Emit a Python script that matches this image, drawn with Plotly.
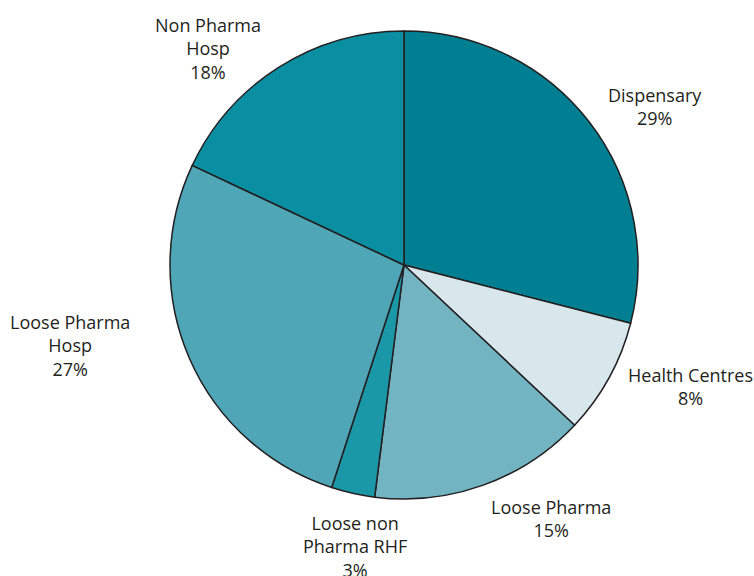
import math
import plotly.graph_objects as go

# Share of total by source
categories = ["Dispensary", "Health Centres", "Loose Pharma", "Loose non Pharma RHF",
              "Loose Pharma Hosp", "Non Pharma Hosp"]
display_names = ["Dispensary", "Health Centres", "Loose Pharma", "Loose non<br>Pharma RHF",
                 "Loose Pharma<br>Hosp", "Non Pharma<br>Hosp"]
shares = [29, 8, 15, 3, 27, 18]
colors = ["#007f93", "#d7e7eb", "#72b4c1", "#1b98a8", "#4ea6b6", "#0a8ea1"]

# Pixel nudges for each outside label, measured from the slice's outer edge midpoint
label_nudge = [(66, 15), (81, -9), (68, -33), (2, -53), (-119, 12), (-71, 19)]

W, H = 754, 576
cx, cy, r = 404, 265, 234

fig = go.Figure(go.Pie(
    labels=categories,
    values=shares,
    textinfo="none",
    marker=dict(colors=colors, line=dict(color="#231f20", width=1.5)),
    sort=False,
    direction="clockwise",
    rotation=0,
    showlegend=False,
    automargin=False,
    hoverinfo="label+percent",
    domain=dict(x=[(cx - r) / W, (cx + r) / W], y=[(H - cy - r) / H, (H - cy + r) / H]),
))

# Outside labels: anchored at the mid-angle of each slice on the rim
total = sum(shares)
start = 0.0
for name, val, (dx, dy) in zip(display_names, shares, label_nudge):
    mid = (start + val / 2) / total * 2 * math.pi
    start += val
    ex = cx + r * math.sin(mid)
    ey = cy - r * math.cos(mid)
    fig.add_annotation(
        x=ex / W, y=1 - ey / H, xref="paper", yref="paper",
        xshift=dx, yshift=dy,
        text=f"{name}<br>{round(val / total * 100)}%",
        showarrow=False, align="center", xanchor="center", yanchor="middle",
        font=dict(family="Open Sans", size=18, color="#231f20"),
    )

fig.update_layout(
    width=W, height=H,
    margin=dict(l=0, r=0, t=0, b=0),
    paper_bgcolor="white",
    plot_bgcolor="white",
)

fig.write_html("out.html")
